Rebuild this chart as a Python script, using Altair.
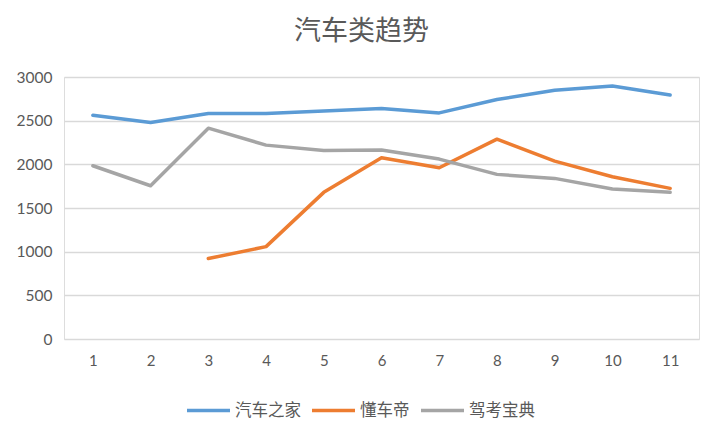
import altair as alt
import pandas as pd

months = [1, 2, 3, 4, 5, 6, 7, 8, 9, 10, 11]
series_names = ["汽车之家", "懂车帝", "驾考宝典"]
autohome = [2562, 2479, 2582, 2582, 2612, 2639, 2589, 2742, 2848, 2897, 2795]
dongchedi = [None, None, 921, 1058, 1679, 2075, 1961, 2288, 2037, 1858, 1725]
jiakao = [1984, 1755, 2414, 2220, 2159, 2163, 2060, 1885, 1839, 1717, 1679]
colors = ["#5B9BD5", "#ED7D31", "#A5A5A5"]
y_ticks = [0, 500, 1000, 1500, 2000, 2500, 3000]

rows = []
for name, vals in zip(series_names, [autohome, dongchedi, jiakao]):
    for m, v in zip(months, vals):
        if v is not None:
            rows.append({"月": m, "系列": name, "值": v})
df = pd.DataFrame(rows)

chart = alt.Chart(df).mark_line(strokeWidth=3.5, strokeCap="round", strokeJoin="round").encode(
    x=alt.X("月:O", scale=alt.Scale(type="point", padding=0.5),
            axis=alt.Axis(title=None, labelAngle=0, ticks=False, domain=False, grid=False,
                          labelPadding=14, labelFont="Lato", labelFontSize=15,
                          labelColor="#595959")),
    y=alt.Y("值:Q", scale=alt.Scale(domain=[0, 3000], nice=False),
            axis=alt.Axis(title=None, values=y_ticks, format="d", ticks=False, domain=False,
                          gridColor="#D9D9D9", gridWidth=1.3, labelPadding=12,
                          labelFont="Lato", labelFontSize=15.5, labelColor="#595959")),
    color=alt.Color("系列:N", scale=alt.Scale(domain=series_names, range=colors),
                    legend=alt.Legend(title=None, orient="none", direction="horizontal",
                                      legendX=121, legendY=310, gridAlign="none",
                                      symbolType="stroke", symbolSize=1849,
                                      symbolStrokeWidth=3.5, labelOffset=3,
                                      columnPadding=4, labelFont="Noto Sans CJK SC",
                                      labelFontSize=16.5, labelColor="#595959")),
).properties(
    width=635,
    height=262,
    title=alt.TitleParams("汽车类趋势", font="Noto Sans CJK SC", fontSize=27,
                          fontWeight="normal", color="#595959", anchor="middle",
                          dx=-20, offset=24),
    autosize=alt.AutoSizeParams(type="none"),
    padding={"left": 56, "top": 69, "right": 15, "bottom": 90},
).configure_view(stroke=None).configure(background="white")

chart.save("out.html", embed_options={"renderer": "svg", "actions": False})
